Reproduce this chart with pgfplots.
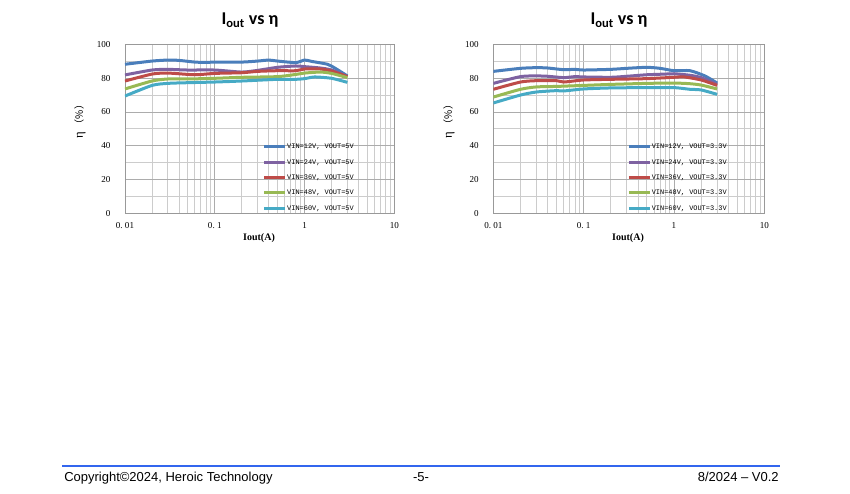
\documentclass[border=0pt]{standalone}
\usepackage{fontspec}
\setmainfont{Liberation Serif}
\newfontfamily\titlefont{Carlito}
\newfontfamily\sansf{Liberation Sans}
\newfontfamily\monof{Liberation Mono}
\newfontfamily\cjk{Noto Sans CJK SC}
\usepackage{pgfplots}
\pgfplotsset{compat=1.18}
\definecolor{cBlue}{HTML}{4A7EBB}
\definecolor{cPurple}{HTML}{7E62A1}
\definecolor{cRed}{HTML}{BE4B48}
\definecolor{cGreen}{HTML}{98B954}
\definecolor{cCyan}{HTML}{46AAC5}
\definecolor{footblue}{HTML}{3366EE}
\begin{document}
\begin{tikzpicture}
% left chart
\begin{axis}[scale only axis, width=202pt, height=126.75pt,
    at={(93.75pt,-160pt)}, anchor=south west,
    xmode=log, xmin=0.01, xmax=10, ymin=0, ymax=100,
    xtick={0.01,0.1,1,10},
    xticklabels={0.\ 01,0.\ 1,1,10},
    ytick={0,20,40,60,80,100},
    minor ytick={10,30,50,70,90},
    grid=both,
    major grid style={draw=gray!65, line width=0.6pt},
    minor grid style={draw=gray!40, line width=0.6pt},
    axis line style={draw=gray!80, line width=0.6pt},
    major tick length=0pt, minor tick length=0pt,
    yticklabel={\pgfmathprintnumber[assume math mode=true]{\tick}},
    tick label style={font=\fontsize{6.8}{8}\selectfont, text=black},
    yticklabel style={xshift=-7.4pt},
    xticklabel style={yshift=-3.5pt},
    legend image code/.code={\draw[#1, line width=2.25pt] (0pt,0pt) -- (15.5pt,0pt);},
    legend cell align=left,
    legend style={draw=none, fill=none, inner sep=0pt, row sep=5.5pt,
      font=\monof\fontsize{5.2}{6}\selectfont,
      nodes={inner sep=0.5pt, text height=4pt, text depth=1pt},
      at={(0.511,0.418)}, anchor=north west}]
\addplot[cBlue, line width=2.25pt, smooth, tension=0.4] coordinates {(0.01,88.2)(0.02,90.1)(0.03,90.7)(0.04,90.5)(0.06,89.5)(0.08,89.3)(0.1,89.5)(0.2,89.5)(0.3,90.1)(0.4,90.7)(0.5,90.1)(0.8,89.2)(1,90.7)(1.2,89.9)(1.8,88.2)(2.2,85.8)(3,81.3)};
\addlegendentry{VIN=12V, VOUT=5V}
\addplot[cPurple, line width=2.25pt, smooth, tension=0.4] coordinates {(0.01,81.9)(0.02,84.8)(0.03,85.2)(0.05,84.8)(0.1,84.8)(0.2,83.6)(0.3,84.6)(0.5,86.4)(0.8,87.2)(1,86.8)(1.5,86)(2,84.8)(3,80.9)};
\addlegendentry{VIN=24V, VOUT=5V}
\addplot[cRed, line width=2.25pt, smooth, tension=0.4] coordinates {(0.01,78.3)(0.02,82.4)(0.03,83)(0.06,82)(0.1,82.8)(0.2,83.2)(0.3,84)(0.5,84.4)(0.8,84.4)(1,85.4)(1.5,85.4)(2,84.2)(3,80.9)};
\addlegendentry{VIN=36V, VOUT=5V}
\addplot[cGreen, line width=2.25pt, smooth, tension=0.4] coordinates {(0.01,73.6)(0.02,78.3)(0.03,79.5)(0.05,79.5)(0.1,79.9)(0.2,80.5)(0.5,80.9)(0.8,82.2)(1,83)(1.5,83.6)(2,82.8)(3,80.3)};
\addlegendentry{VIN=48V, VOUT=5V}
\addplot[cCyan, line width=2.25pt, smooth, tension=0.4] coordinates {(0.01,69.4)(0.02,75.7)(0.03,76.9)(0.05,77.3)(0.1,77.7)(0.2,78.3)(0.5,79.3)(0.8,79.3)(1,79.7)(1.3,80.7)(2,79.9)(3,77.5)};
\addlegendentry{VIN=60V, VOUT=5V}
\end{axis}
% right chart
\begin{axis}[scale only axis, width=203.25pt, height=126.75pt,
    at={(370pt,-160pt)}, anchor=south west,
    xmode=log, xmin=0.01, xmax=10, ymin=0, ymax=100,
    xtick={0.01,0.1,1,10},
    xticklabels={0.\ 01,0.\ 1,1,10},
    ytick={0,20,40,60,80,100},
    minor ytick={10,30,50,70,90},
    grid=both,
    major grid style={draw=gray!65, line width=0.6pt},
    minor grid style={draw=gray!40, line width=0.6pt},
    axis line style={draw=gray!80, line width=0.6pt},
    major tick length=0pt, minor tick length=0pt,
    yticklabel={\pgfmathprintnumber[assume math mode=true]{\tick}},
    tick label style={font=\fontsize{6.8}{8}\selectfont, text=black},
    yticklabel style={xshift=-7.4pt},
    xticklabel style={yshift=-3.5pt},
    legend image code/.code={\draw[#1, line width=2.25pt] (0pt,0pt) -- (15.5pt,0pt);},
    legend cell align=left,
    legend style={draw=none, fill=none, inner sep=0pt, row sep=5.5pt,
      font=\monof\fontsize{5.2}{6}\selectfont,
      nodes={inner sep=0.5pt, text height=4pt, text depth=1pt},
      at={(0.494,0.418)}, anchor=north west}]
\addplot[cBlue, line width=2.25pt, smooth, tension=0.4] coordinates {(0.01,84)(0.02,85.8)(0.03,86.2)(0.04,86)(0.06,85)(0.08,85.2)(0.1,84.8)(0.2,85.2)(0.3,85.8)(0.5,86.4)(0.7,85.8)(1,84.4)(1.5,84.4)(2.2,81.3)(3,77.1)};
\addlegendentry{VIN=12V, VOUT=3.3V}
\addplot[cPurple, line width=2.25pt, smooth, tension=0.4] coordinates {(0.01,76.9)(0.02,80.9)(0.03,81.3)(0.04,81.1)(0.06,80.3)(0.08,80.9)(0.1,80.7)(0.2,80.5)(0.3,81.1)(0.5,82)(0.8,82.4)(1,82.6)(1.5,81.7)(2,80.3)(3,76.3)};
\addlegendentry{VIN=24V, VOUT=3.3V}
\addplot[cRed, line width=2.25pt, smooth, tension=0.4] coordinates {(0.01,73.4)(0.02,77.7)(0.03,78.5)(0.05,78.5)(0.06,77.7)(0.1,78.9)(0.2,79.3)(0.5,79.7)(1,80.5)(1.3,80.7)(2,78.9)(3,75.7)};
\addlegendentry{VIN=36V, VOUT=3.3V}
\addplot[cGreen, line width=2.25pt, smooth, tension=0.4] coordinates {(0.01,68.8)(0.02,73.4)(0.03,74.8)(0.05,75.1)(0.1,75.7)(0.2,76.3)(0.5,76.9)(1,77.1)(1.5,76.7)(2,75.9)(3,73.6)};
\addlegendentry{VIN=48V, VOUT=3.3V}
\addplot[cCyan, line width=2.25pt, smooth, tension=0.4] coordinates {(0.01,65.3)(0.02,70)(0.03,71.8)(0.05,72.6)(0.06,72.4)(0.1,73.6)(0.2,74.2)(0.5,74.4)(1,74.4)(1.5,73.4)(2,73)(3,70.4)};
\addlegendentry{VIN=60V, VOUT=3.3V}
\end{axis}
\begin{scope}[x=0.75pt,y=-0.75pt]
\node[font=\titlefont\bfseries\fontsize{13.5}{16}\selectfont] at (250,20) {I\textsubscript{out} vs η};
\node[font=\titlefont\bfseries\fontsize{13.5}{16}\selectfont] at (619,20) {I\textsubscript{out} vs η};
\node[font=\bfseries\fontsize{7.5}{9}\selectfont] at (259,238) {Iout(A)};
\node[font=\bfseries\fontsize{7.5}{9}\selectfont] at (628,238) {Iout(A)};
\node[rotate=90, font=\fontsize{7.5}{9}\selectfont] at (80,119) {{\fontsize{9.5}{10}\selectfont η} {\cjk （\%）}};
\node[rotate=90, font=\fontsize{7.5}{9}\selectfont] at (449,119) {{\fontsize{9.5}{10}\selectfont η} {\cjk （\%）}};
\draw[footblue, line width=1.5pt] (62,466) -- (780,466);
\node[anchor=base west, inner sep=0pt, font=\sansf\fontsize{9.75}{11}\selectfont] at (64,481) {Copyright©2024, Heroic Technology};
\node[anchor=base, inner sep=0pt, font=\sansf\fontsize{9.75}{11}\selectfont] at (421,481) {-5-};
\node[anchor=base east, inner sep=0pt, font=\sansf\fontsize{9.75}{11}\selectfont] at (779,481) {8/2024 – V0.2};
\end{scope}
\pgfresetboundingbox
\path[use as bounding box] (0,0) rectangle (637.5pt,-369.75pt);
\end{tikzpicture}
\end{document}
